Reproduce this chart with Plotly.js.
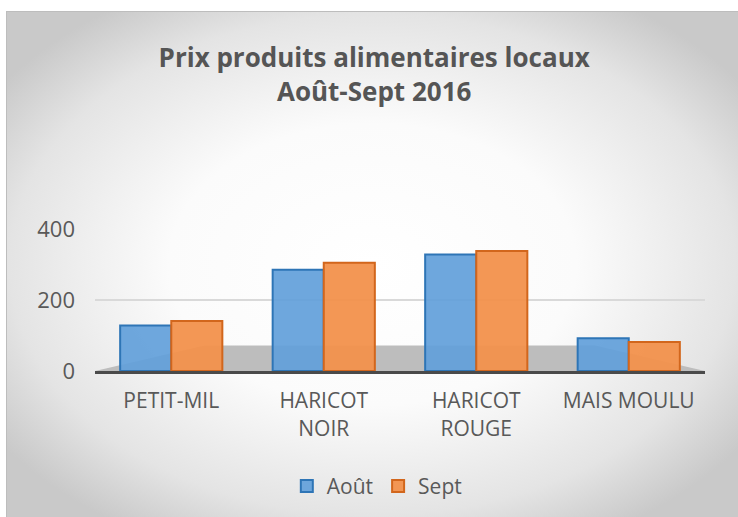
<!DOCTYPE html>
<html>
<head>
<meta charset="utf-8">
<script src="https://cdn.plot.ly/plotly-3.0.1.min.js"></script>
<style>
  html, body { margin: 0; padding: 0; background: #ffffff; width: 738px; height: 517px; overflow: hidden; }
  #bg { position: absolute; left: 6px; top: 11px; width: 732px; height: 506px;
        border-top: 1px solid #bdbdbd; border-left: 1px solid #bdbdbd; box-sizing: border-box;
        background: radial-gradient(ellipse 62% 62% at 50% 50%, #ffffff 0%, #fbfbfb 45%, #e4e4e4 80%, #c9c9c9 100%); }
  #chart { position: absolute; left: 0; top: 0; width: 738px; height: 517px; }
</style>
</head>
<body>
<div id="bg"></div>
<div id="chart"></div>
<script>
const categories = ["PETIT-MIL", "HARICOT<br>NOIR", "HARICOT<br>ROUGE", "MAIS MOULU"];
const seriesNames = ["Août", "Sept"];
const aout = [128, 285, 328, 92];
const sept = [141, 305, 338, 82];
const yTicks = [0, 200, 400];

const font = "'Open Sans', 'Noto Sans', 'Liberation Sans', sans-serif";

const traces = [
  {
    type: "bar", name: seriesNames[0], x: categories, y: aout,
    marker: { color: "rgba(98,160,218,0.92)", line: { color: "#2e75b6", width: 2 } },
    hoverinfo: "skip"
  },
  {
    type: "bar", name: seriesNames[1], x: categories, y: sept,
    marker: { color: "rgba(242,145,76,0.95)", line: { color: "#d2661c", width: 2 } },
    hoverinfo: "skip"
  }
];

const layout = {
  width: 738, height: 517,
  paper_bgcolor: "rgba(0,0,0,0)",
  plot_bgcolor: "rgba(0,0,0,0)",
  margin: { l: 95, r: 33, t: 229, b: 145, pad: 0 },
  font: { family: font, size: 20, color: "#595959" },
  title: {
    text: "<b>Prix produits alimentaires locaux<br>Août-Sept 2016</b>",
    font: { family: font, size: 26, color: "#555555" },
    x: 0.507, xanchor: "center", xref: "container",
    y: 0.87, yanchor: "middle", yref: "container"
  },
  barmode: "group",
  bargap: 0.33,
  bargroupgap: 0,
  xaxis: {
    type: "category",
    showgrid: false, zeroline: false,
    showline: true, linecolor: "#4a4a4a", linewidth: 3,
    ticks: "", ticklabelstandoff: 9,
    tickfont: { family: font, size: 21, color: "#595959" },
    fixedrange: true
  },
  yaxis: {
    range: [0, 400],
    tickvals: yTicks,
    showgrid: true, gridcolor: "#d9d9d9", gridwidth: 1.5,
    zeroline: false, showline: false,
    ticks: "", ticklabelstandoff: 19,
    tickfont: { family: font, size: 22, color: "#595959" },
    fixedrange: true
  },
  showlegend: true,
  legend: {
    orientation: "h", x: 0.462, xanchor: "center",
    y: -0.8, yanchor: "middle",
    font: { family: font, size: 21, color: "#595959" },
    bgcolor: "rgba(0,0,0,0)", itemwidth: 30, traceorder: "normal"
  },
  shapes: [
    {
      type: "path", xref: "paper", yref: "paper", layer: "below",
      path: "M 0,0 L 1,0 L 0.82,0.18 L 0.18,0.18 Z",
      fillcolor: "#bdbdbd", line: { width: 0 }
    }
  ]
};

Plotly.newPlot("chart", traces, layout, { displayModeBar: false, staticPlot: true });
</script>
</body>
</html>
